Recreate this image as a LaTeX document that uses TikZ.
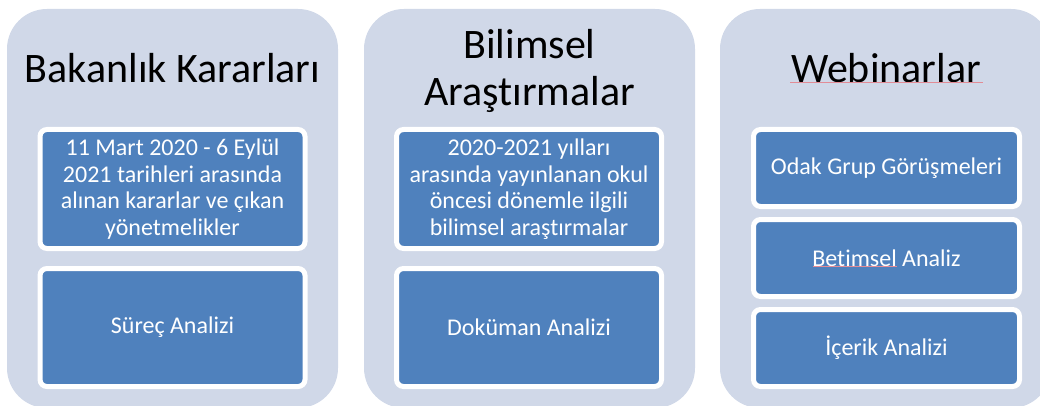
\documentclass[tikz,border=0pt]{standalone}
\usepackage{fontspec}
\setmainfont{Carlito}[Ligatures={NoCommon}]
\definecolor{panelbg}{RGB}{208,216,232}
\definecolor{boxblue}{RGB}{79,129,189}
\definecolor{spellred}{RGB}{226,140,150}
\begin{document}
\begin{tikzpicture}[x=1pt,y=-1pt,
  panel/.style={fill=panelbg, draw=none, rounded corners=40pt, minimum width=331pt, minimum height=399pt, inner sep=0pt},
  bluebox/.style={fill=boxblue, draw=white, line width=5pt, rounded corners=7pt, inner sep=0pt, text=white, align=center, font=\fontsize{24}{26.6}\selectfont},
  title/.style={align=center, text=black, inner sep=0pt, font=\fontsize{42}{47}\selectfont}]
\useasboundingbox (0,0) rectangle (1040,406);
\clip (0,0) rectangle (1040,406);
% panels
\node[panel] (p1) at (172.5,208.5) {};
\node[panel] (p2) at (529.5,208.5) {};
\node[panel] (p3) at (885.5,208.5) {};
% titles
\node[title] (t1) at (172.5,68) {Bakanlık Kararları};
\node[title] (t2) at (529.5,71) {Bilimsel\\Araştırmalar};
\node[title] (t3) at (886,68) {Webinarlar};
% panel 1 boxes
\node[bluebox, minimum width=265pt, minimum height=119pt] (b11) at (172.5,189) {11 Mart 2020 - 6 Eylül\\2021 tarihleri arasında\\alınan kararlar ve çıkan\\yönetmelikler};
\node[bluebox, minimum width=265pt, minimum height=118pt] (b12) at (172.5,327.5) {Süreç Analizi};
% panel 2 boxes
\node[bluebox, minimum width=265pt, minimum height=119pt] (b21) at (529,189) {2020-2021 yılları\\arasında yayınlanan okul\\öncesi dönemle ilgili\\bilimsel araştırmalar};
\node[bluebox, minimum width=265pt, minimum height=118pt] (b22) at (529,327.5) {Doküman Analizi};
% panel 3 boxes
\node[bluebox, minimum width=266pt, minimum height=77pt] (b31) at (886.5,168) {Odak Grup Görüşmeleri};
\node[bluebox, minimum width=266pt, minimum height=77pt] (b32) at (886.5,258) {Betimsel Analiz};
\node[bluebox, minimum width=266pt, minimum height=77pt] (b33) at (886.5,348) {İçerik Analizi};
% spell-check underlines
\draw[spellred, line width=0.8pt] (790,82) -- (983,82);
\draw[spellred, line width=0.8pt] (813,266.5) -- (897,266.5);
\end{tikzpicture}
\end{document}
